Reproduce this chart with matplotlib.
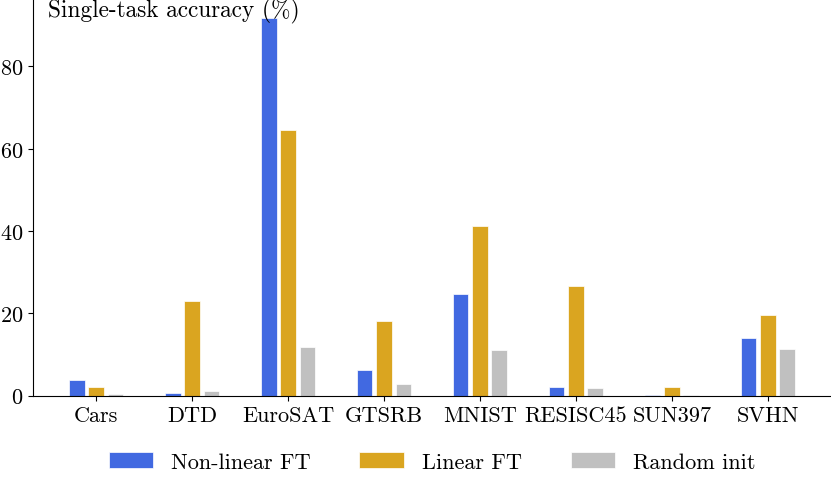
import numpy as np
import matplotlib.pyplot as plt

plt.rcParams['font.family'] = ['cmr10', 'DejaVu Serif']
plt.rcParams['axes.formatter.use_mathtext'] = True
plt.rcParams['font.size'] = 16

tasks = ['Cars', 'DTD', 'EuroSAT', 'GTSRB', 'MNIST', 'RESISC45', 'SUN397', 'SVHN']
nonlinear_ft = [3.8, 0.7, 91.8, 6.3, 24.6, 2.0, 0.2, 14.1]
linear_ft = [2.0, 23.0, 64.6, 18.1, 41.2, 26.7, 2.0, 19.6]
random_init = [0.4, 1.1, 11.9, 2.8, 11.2, 1.8, 0.1, 11.4]

series = [('Non-linear FT', nonlinear_ft, 'royalblue'),
          ('Linear FT', linear_ft, 'goldenrod'),
          ('Random init', random_init, 'silver')]

fig = plt.figure(figsize=(8.31, 4.85), dpi=100)
ax = fig.add_axes([0.0397, 0.182, 0.9603, 0.818])

x = np.arange(len(tasks))
offsets = [-0.2, 0.0, 0.2]
for (name, vals, col), off in zip(series, offsets):
    ax.bar(x + off, vals, width=0.16, color=col, edgecolor='white',
           linewidth=0.5, label=name)

ax.set_xticks(x)
ax.set_xticklabels(tasks)
ax.set_yticks([0, 20, 40, 60, 80])
ax.spines['top'].set_visible(False)
ax.spines['right'].set_visible(False)

# y label sits inside the axes, top-left
ax.text(0.019, 1.003, 'Single-task accuracy (%)', transform=ax.transAxes,
        ha='left', va='top', fontsize=16.8)

ax.legend(loc='center', bbox_to_anchor=(0.5, -0.167), ncol=3, frameon=False,
          handlelength=2.0, columnspacing=2.2)

fig.savefig('out.png', dpi=100)
